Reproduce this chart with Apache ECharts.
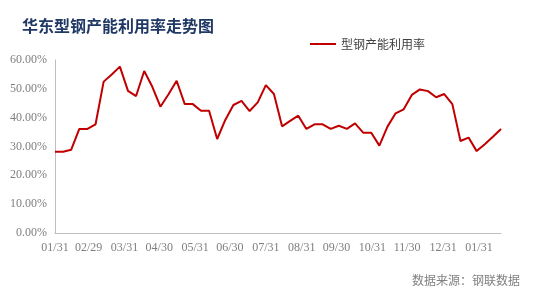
<!DOCTYPE html>
<html>
<head>
<meta charset="utf-8">
<script src="https://cdn.jsdelivr.net/npm/echarts@6/dist/echarts.min.js"></script>
<style>
html,body{margin:0;padding:0;background:#fff;}
#c{width:535px;height:289px;}
</style>
</head>
<body>
<div id="c"></div>
<script>
var titleText = '华东型钢产能利用率走势图';
var seriesName = '型钢产能利用率';
var sourceText = '数据来源：钢联数据';

var weekDates = [
  '2024-01-31','2024-02-07','2024-02-14','2024-02-21','2024-02-28','2024-03-06','2024-03-13','2024-03-20',
  '2024-03-27','2024-04-03','2024-04-10','2024-04-17','2024-04-24','2024-05-01','2024-05-08','2024-05-15',
  '2024-05-22','2024-05-29','2024-06-05','2024-06-12','2024-06-19','2024-06-26','2024-07-03','2024-07-10',
  '2024-07-17','2024-07-24','2024-07-31','2024-08-07','2024-08-14','2024-08-21','2024-08-28','2024-09-04',
  '2024-09-11','2024-09-18','2024-09-25','2024-10-02','2024-10-09','2024-10-16','2024-10-23','2024-10-30',
  '2024-11-06','2024-11-13','2024-11-20','2024-11-27','2024-12-04','2024-12-11','2024-12-18','2024-12-25',
  '2025-01-01','2025-01-08','2025-01-15','2025-01-22','2025-01-29','2025-02-05','2025-02-12','2025-02-19'
];
var utilization = [
  28.2, 28.2, 28.9, 36.1, 36.1, 37.7, 52.5, 55.0,
  57.7, 49.3, 47.5, 56.2, 50.7, 43.8, 48.1, 52.8,
  44.7, 44.7, 42.4, 42.4, 32.6, 39.2, 44.4, 45.8,
  42.3, 45.3, 51.3, 48.2, 37.0, 38.9, 40.7, 36.1,
  37.7, 37.7, 36.1, 37.2, 36.1, 38.0, 34.8, 34.8,
  30.3, 36.9, 41.5, 42.9, 47.9, 49.8, 49.2, 47.1,
  48.2, 44.7, 31.9, 33.1, 28.4, 30.8, 33.4, 36.1
];
var yTicks = [0, 10, 20, 30, 40, 50, 60];

// daily category axis so month-end labels sit at their true dates
function pad(n){ return (n < 10 ? '0' : '') + n; }
function fmt(d){ return d.getUTCFullYear() + '-' + pad(d.getUTCMonth() + 1) + '-' + pad(d.getUTCDate()); }
var dayCats = [];
(function(){
  var p0 = weekDates[0].split('-'), p1 = weekDates[weekDates.length - 1].split('-');
  var d = new Date(Date.UTC(+p0[0], +p0[1] - 1, +p0[2]));
  var end = Date.UTC(+p1[0], +p1[1] - 1, +p1[2]);
  while (d.getTime() <= end) {
    dayCats.push(fmt(d));
    d = new Date(d.getTime() + 86400000);
  }
})();
function isMonthEnd(s){
  var p = s.split('-');
  var d = new Date(Date.UTC(+p[0], +p[1] - 1, +p[2]) + 86400000);
  return d.getUTCMonth() + 1 !== +p[1];
}
var seriesData = weekDates.map(function(d, i){ return [dayCats.indexOf(d), utilization[i]]; });

var chart = echarts.init(document.getElementById('c'), null, {renderer: 'canvas'});
chart.setOption({
  animation: false,
  backgroundColor: '#ffffff',
  title: [
    {
      text: titleText, left: 17, top: 13,
      textStyle: {fontFamily: 'Noto Sans CJK SC', fontWeight: 'bold', fontSize: 16, color: '#1f3864'}
    },
    {
      text: sourceText, right: 10, top: 269,
      textStyle: {fontFamily: 'Noto Sans CJK SC', fontWeight: 'normal', fontSize: 12, color: '#808080'}
    }
  ],
  legend: {
    left: 305, top: 33,
    icon: 'rect',
    itemWidth: 26, itemHeight: 2, itemGap: 4,
    data: [seriesName],
    itemStyle: {color: '#c00000'},
    textStyle: {fontFamily: 'Noto Sans CJK SC', fontSize: 12, color: '#404040'}
  },
  grid: {left: 55, right: 34, top: 60, bottom: 56, containLabel: false},
  xAxis: {
    type: 'category',
    data: dayCats,
    boundaryGap: false,
    axisLine: {lineStyle: {color: '#bfbfbf', width: 1}},
    axisTick: {show: false},
    splitLine: {show: false},
    axisLabel: {
      interval: function(index, value){ return isMonthEnd(value); },
      formatter: function(v){ return v.slice(5).replace('-', '/'); },
      fontFamily: 'Liberation Serif', fontSize: 12, color: '#7f7f7f', margin: 9
    }
  },
  yAxis: {
    type: 'value',
    min: yTicks[0], max: yTicks[yTicks.length - 1], interval: yTicks[1] - yTicks[0],
    axisLine: {show: true, lineStyle: {color: '#bfbfbf', width: 1}},
    axisTick: {show: false},
    splitLine: {show: false},
    axisLabel: {
      formatter: function(v){ return v.toFixed(2) + '%'; },
      fontFamily: 'Liberation Serif', fontSize: 12, color: '#7f7f7f', margin: 8
    }
  },
  series: [{
    name: seriesName,
    type: 'line',
    data: seriesData,
    symbol: 'none',
    showSymbol: false,
    lineStyle: {color: '#c00000', width: 2},
    itemStyle: {color: '#c00000'}
  }]
});
</script>
</body>
</html>
